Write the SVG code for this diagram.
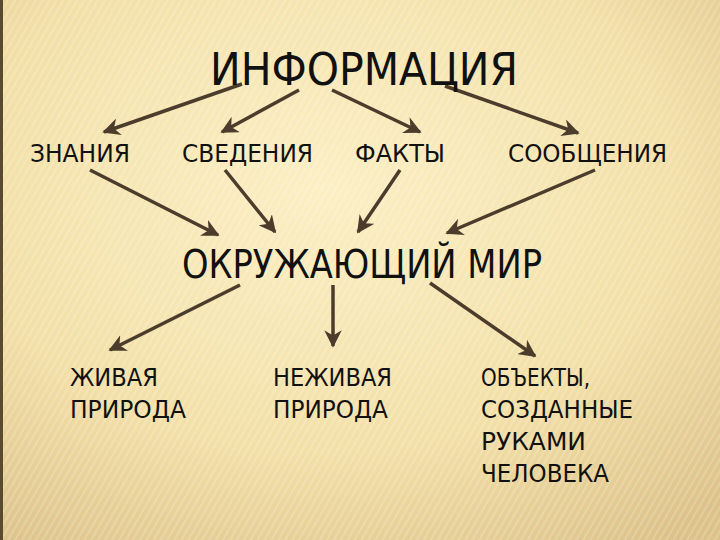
<svg xmlns="http://www.w3.org/2000/svg" width="720" height="540" viewBox="0 0 720 540">
<defs>
<radialGradient id="bg" cx="0.45" cy="0.35" r="0.8">
<stop offset="0" stop-color="#fbefc4"/>
<stop offset="0.6" stop-color="#f3e0a8"/>
<stop offset="1" stop-color="#dcc28a"/>
</radialGradient>
<pattern id="st" width="6" height="6" patternUnits="userSpaceOnUse" patternTransform="rotate(30)">
<rect width="2" height="6" fill="#ffffff" opacity="0.18"/>
</pattern>
<marker id="ah" viewBox="0 0 10 10" refX="9" refY="5" markerWidth="5" markerHeight="5" orient="auto" markerUnits="strokeWidth">
<path d="M0,0 L10,5 L0,10 L3,5 Z" fill="#4b3c2c"/>
</marker>
<style>
text{font-family:"DejaVu Sans","Liberation Sans",sans-serif;fill:#111}
.s{font-size:24px}
.c line{stroke:#4b3c2c;stroke-width:3.5;marker-end:url(#ah)}
</style>
</defs>
<rect width="720" height="540" fill="url(#bg)"/>
<rect width="720" height="540" fill="url(#st)"/>
<rect x="0" y="0" width="3" height="540" fill="#5a4a30"/>
<g class="c">
<line x1="242" y1="84" x2="104" y2="132"/>
<line x1="299" y1="90" x2="222" y2="132"/>
<line x1="332" y1="90" x2="420" y2="132"/>
<line x1="445" y1="86" x2="578" y2="133"/>
<line x1="90" y1="170" x2="218" y2="235"/>
<line x1="225" y1="170" x2="275" y2="232"/>
<line x1="400" y1="170" x2="358" y2="232"/>
<line x1="595" y1="170" x2="447" y2="233"/>
<line x1="240" y1="285" x2="110" y2="350"/>
<line x1="333" y1="285" x2="333" y2="346"/>
<line x1="430" y1="283" x2="535" y2="356"/>
</g>
<g id="info"><text x="210" y="85" font-size="44" textLength="308" lengthAdjust="spacingAndGlyphs">ИНФОРМАЦИЯ</text></g>
<g id="znaniya"><text class="s" x="30" y="162" textLength="100" lengthAdjust="spacingAndGlyphs">ЗНАНИЯ</text></g>
<g id="svedeniya"><text class="s" x="182" y="162" textLength="131" lengthAdjust="spacingAndGlyphs">СВЕДЕНИЯ</text></g>
<g id="fakty"><text class="s" x="355" y="162" textLength="90" lengthAdjust="spacingAndGlyphs">ФАКТЫ</text></g>
<g id="soobshcheniya"><text class="s" x="508" y="162" textLength="159" lengthAdjust="spacingAndGlyphs">СООБЩЕНИЯ</text></g>
<g id="mir"><text x="182" y="278" font-size="39" textLength="360" lengthAdjust="spacingAndGlyphs">ОКРУЖАЮЩИЙ МИР</text></g>
<g id="zhivaya"><text class="s" x="70" y="386" textLength="88" lengthAdjust="spacingAndGlyphs">ЖИВАЯ</text><text class="s" x="70" y="418" textLength="116" lengthAdjust="spacingAndGlyphs">ПРИРОДА</text></g>
<g id="nezhivaya"><text class="s" x="273" y="386" textLength="119" lengthAdjust="spacingAndGlyphs">НЕЖИВАЯ</text><text class="s" x="273" y="418" textLength="115" lengthAdjust="spacingAndGlyphs">ПРИРОДА</text></g>
<g id="obekty"><text class="s" x="481" y="386" textLength="109" lengthAdjust="spacingAndGlyphs">ОБЪЕКТЫ,</text><text class="s" x="481" y="418" textLength="152" lengthAdjust="spacingAndGlyphs">СОЗДАННЫЕ</text><text class="s" x="481" y="450" textLength="105" lengthAdjust="spacingAndGlyphs">РУКАМИ</text><text class="s" x="481" y="482" textLength="128" lengthAdjust="spacingAndGlyphs">ЧЕЛОВЕКА</text></g>
</svg>
